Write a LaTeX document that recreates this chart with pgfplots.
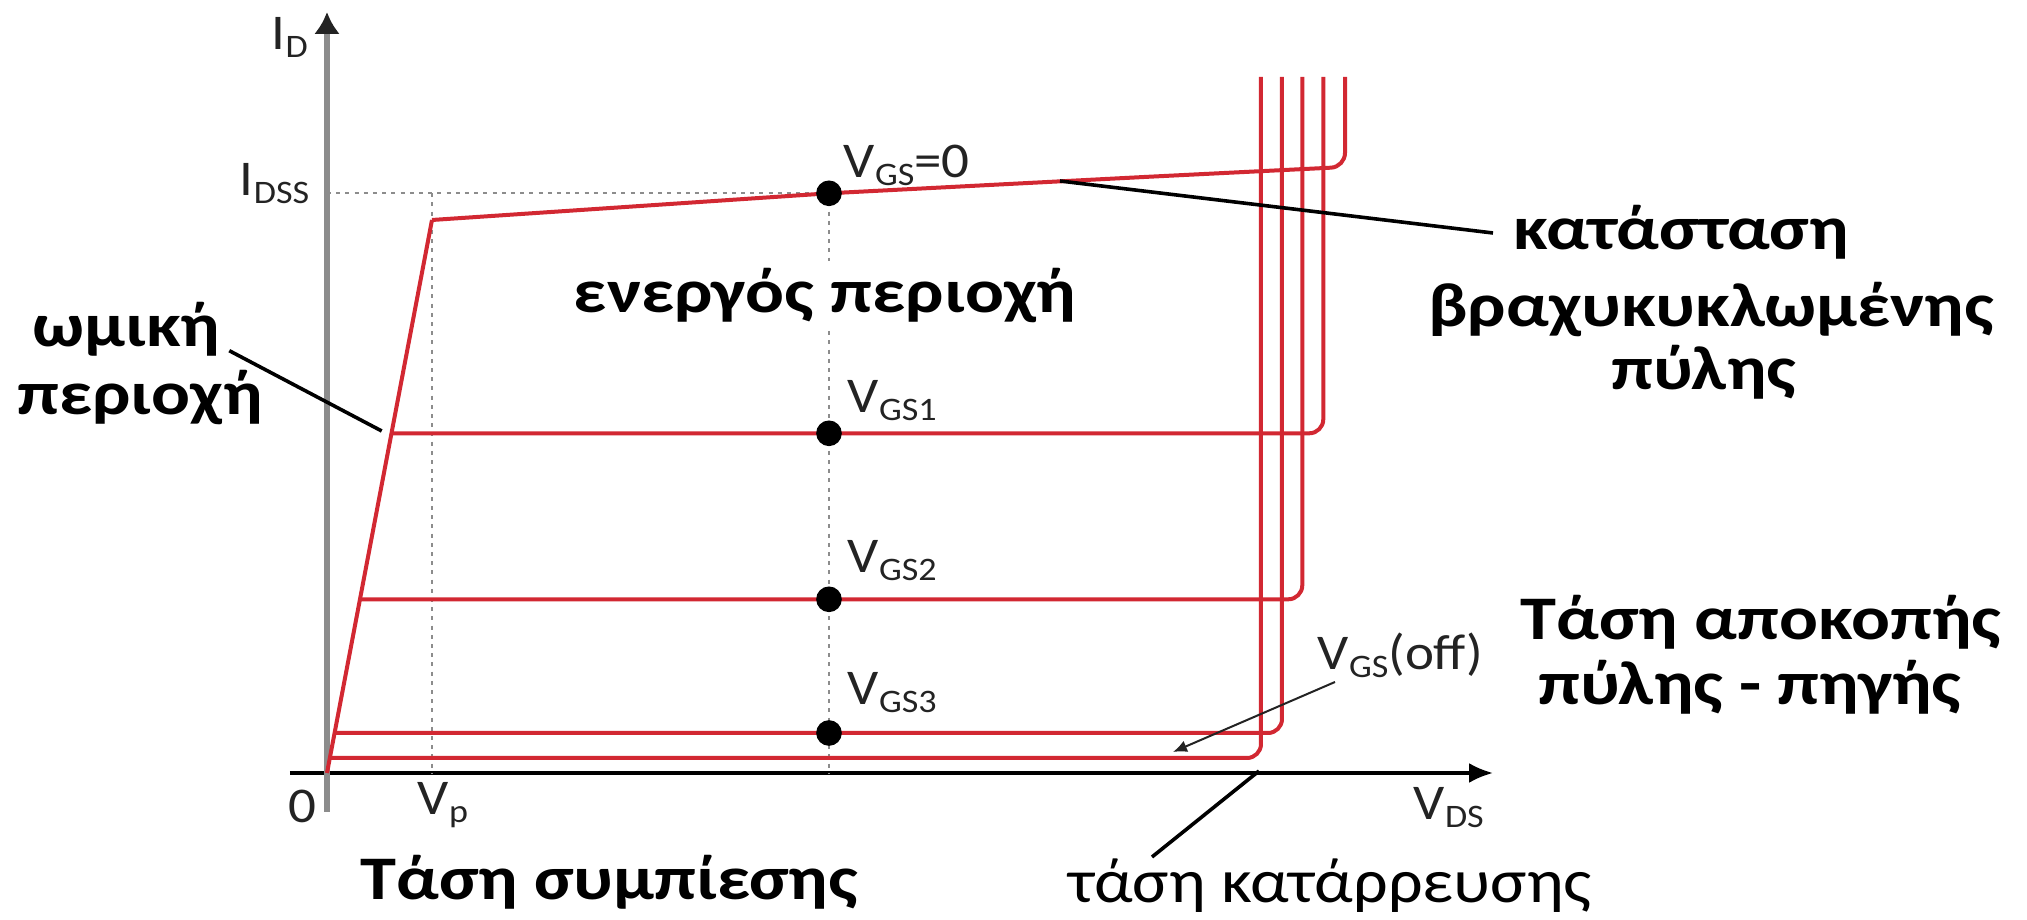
\documentclass[border=0pt]{standalone}
\usepackage{pgfplots}
\pgfplotsset{compat=1.18}
\usepackage{fontspec}
\setmainfont{Carlito}[FakeStretch=1.1]
\newfontfamily\bigfam{Carlito}[FakeStretch=1.17]
\usetikzlibrary{arrows.meta}
\definecolor{curve}{RGB}{210,40,50}
\definecolor{axgray}{RGB}{140,140,140}
\definecolor{lbl}{RGB}{35,35,35}
\newcommand{\sbs}[1]{\raisebox{-2pt}{\fontsize{8.2}{9}\selectfont #1}}
\newcommand{\lblfont}{\fontsize{12.5}{14}\selectfont}
\newcommand{\bigfont}{\bigfam\fontsize{15.5}{18}\selectfont\bfseries}
\newcommand{\regfont}{\fontsize{15.5}{18}\selectfont}
\begin{document}
\begin{tikzpicture}
\begin{axis}[
  x=0.25pt, y=0.25pt,
  xmin=-37, xmax=1166, ymin=-39, ymax=761,
  axis lines=middle, clip=false,
  xtick=\empty, ytick=\empty,
  x axis line style={black, line width=0.8pt, -{Latex[length=6pt,width=5pt]}},
  y axis line style={axgray, line width=1.6pt, -{Latex[length=5.5pt,width=6.5pt,color=lbl]}},
]
% dotted guide lines
\addplot[axgray, line width=0.6pt, dash pattern=on 1pt off 1.3pt] coordinates {(0,579.7) (502,579.7)};
\addplot[axgray, line width=0.6pt, dash pattern=on 1pt off 1.3pt] coordinates {(105,579.7) (105,0)};
\addplot[axgray, line width=0.6pt, dash pattern=on 1pt off 1.3pt] coordinates {(502,579.7) (502,0)};
% ohmic region
\addplot[curve, line width=1pt] coordinates {(0,0) (105,553)};
% characteristic curves
\addplot[curve, line width=1pt, rounded corners=3.5pt] coordinates {(105,553) (502,579.7) (823,596.3) (1018,606) (1018,696)};
\addplot[curve, line width=1pt, rounded corners=3.5pt] coordinates {(64.5,339.7) (996.3,339.7) (996.3,696)};
\addplot[curve, line width=1pt, rounded corners=3.5pt] coordinates {(33,173.7) (975.3,173.7) (975.3,696)};
\addplot[curve, line width=1pt, rounded corners=3.5pt] coordinates {(7.6,40) (955,40) (955,696)};
\addplot[curve, line width=1pt, rounded corners=3.5pt] coordinates {(2.9,15) (934,15) (934,696)};
% operating points
\addplot[only marks, mark=*, mark size=3pt, black] coordinates {(502,579.7) (502,339.7) (502,173.7) (502,40)};
% leader lines
\draw[black, line width=0.9pt] (-97.7,422.3) -- (54.7,342);
\draw[black, line width=0.9pt] (733,592) -- (1166,540);
\draw[black, line width=0.9pt] (932,2) -- (825,-84);
\draw[lbl, line width=0.5pt, -{Latex[length=3.5pt,width=3pt]}] (1008,91) -- (846,21);
% axis labels
\node[anchor=base west, text=lbl, font=\lblfont, inner sep=0pt] at (-56,723) {I\sbs{D}};
\node[anchor=base east, text=lbl, font=\lblfont, inner sep=0pt] at (-17,577) {I\sbs{DSS}};
\node[anchor=base west, text=lbl, font=\lblfont, inner sep=0pt] at (-39,-50) {0};
\node[anchor=base west, text=lbl, font=\lblfont, inner sep=0pt] at (90,-42) {V\sbs{p}};
\node[anchor=base west, text=lbl, font=\lblfont, inner sep=0pt] at (1086,-47) {V\sbs{DS}};
\node[anchor=base west, text=lbl, font=\lblfont, inner sep=0pt] at (516,595) {V\sbs{GS}=0};
\node[anchor=base west, text=lbl, font=\lblfont, inner sep=0pt] at (520,360) {V\sbs{GS1}};
\node[anchor=base west, text=lbl, font=\lblfont, inner sep=0pt] at (520,200) {V\sbs{GS2}};
\node[anchor=base west, text=lbl, font=\lblfont, inner sep=0pt] at (520,68) {V\sbs{GS3}};
\node[anchor=base west, text=lbl, font=\lblfont, inner sep=0pt] at (990,103) {V\sbs{GS}(off)};
% region labels
\node[anchor=base, font=\bigfont, inner sep=0pt] at (-200.5,426) {ωμική};
\node[anchor=base, font=\bigfont, inner sep=0pt] at (-187,358) {περιοχή};
\node[anchor=base west, font=\bigfont, fill=white, inner sep=2pt] at (238,460) {ενεργός περιοχή};
\node[anchor=base, font=\bigfont, inner sep=0pt] at (1354,523) {κατάσταση};
\node[anchor=base, font=\bigfont, inner sep=0pt] at (1384,446.3) {βραχυκυκλωμένης};
\node[anchor=base, font=\bigfont, inner sep=0pt] at (1377,383) {πύλης};
\node[anchor=base, font=\bigfont, inner sep=0pt] at (1434,133) {Τάση αποκοπής};
\node[anchor=base, font=\bigfont, inner sep=0pt] at (1423,68) {πύλης - πηγής};
\node[anchor=base west, font=\bigfont, inner sep=0pt] at (33,-127) {Τάση συμπίεσης};
\node[anchor=base west, font=\regfont, inner sep=0pt] at (741,-130) {τάση κατάρρευσης};
\coordinate (bbl) at (-327,-147);
\coordinate (btr) at (1700,773);
\end{axis}
\pgfresetboundingbox
\useasboundingbox (bbl) rectangle (btr);
\end{tikzpicture}
\end{document}
